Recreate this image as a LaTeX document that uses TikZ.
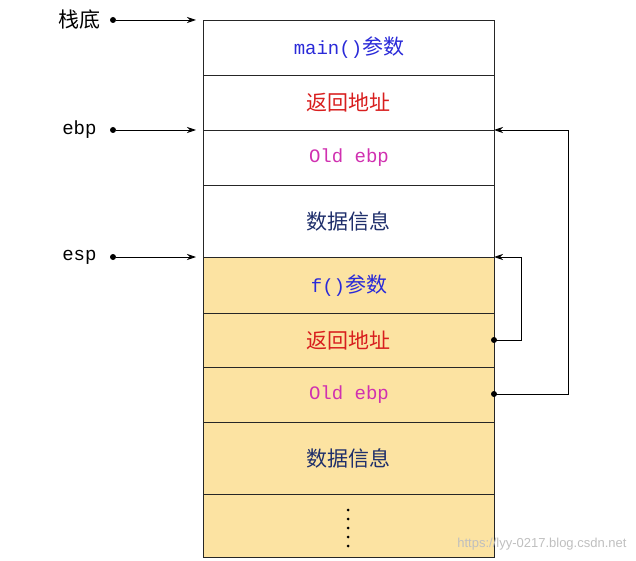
\documentclass[tikz,border=0pt]{standalone}
\usepackage{fontspec}
\setmainfont{Liberation Sans}
\newfontfamily\cjk{Noto Sans CJK SC}
\newfontfamily\mono{Liberation Mono}
\usetikzlibrary{arrows.meta}
\definecolor{yel}{HTML}{FCE3A2}
\definecolor{navy}{HTML}{1F2F6B}
\definecolor{mblue}{HTML}{2A2AD8}
\definecolor{mred}{HTML}{D81E1E}
\definecolor{mpink}{HTML}{D030B0}
\tikzset{
 cell/.style={draw=black!85, line width=0.9pt, minimum width=291pt, anchor=north west, inner sep=0pt},
 arr/.style={-{Stealth[length=9pt,width=6pt]}, line width=0.8pt},
 dotc/.style={circle, fill=black, inner sep=0pt, minimum size=6pt},
 vd/.style={circle, fill=black, inner sep=0pt, minimum size=3pt},
 lab/.style={anchor=east},
 ctxt/.style={font=\cjk\fontsize{21}{21}\selectfont},
 mtxt/.style={font=\mono\fontsize{19}{19}\selectfont}
}
\begin{document}
\begin{tikzpicture}[x=1pt,y=-1pt]
\useasboundingbox (0,0) rectangle (636,561);
\node[cell, minimum height=55pt] (c1) at (203,20) {};
\node[cell, minimum height=55pt] (c2) at (203,75) {};
\node[cell, minimum height=55pt] (c3) at (203,130) {};
\node[cell, minimum height=72pt] (c4) at (203,185) {};
\node[cell, minimum height=56pt, fill=yel] (c5) at (203,257) {};
\node[cell, minimum height=54pt, fill=yel] (c6) at (203,313) {};
\node[cell, minimum height=55pt, fill=yel] (c7) at (203,367) {};
\node[cell, minimum height=72pt, fill=yel] (c8) at (203,422) {};
\node[cell, minimum height=63pt, fill=yel] (c9) at (203,494) {};
\node[text=mblue] (t1) at (c1.center) {\mono\fontsize{19}{19}\selectfont main()\cjk\fontsize{21}{21}\selectfont 参数};
\node[ctxt, text=mred] (t2) at (c2.center) {返回地址};
\node[mtxt, text=mpink] (t3) at (c3.center) {Old ebp};
\node[ctxt, text=navy] (t4) at (c4.center) {数据信息};
\node[text=mblue] (t5) at (c5.center) {\mono\fontsize{19}{19}\selectfont f()\cjk\fontsize{21}{21}\selectfont 参数};
\node[ctxt, text=mred] (t6) at (c6.center) {返回地址};
\node[mtxt, text=mpink] (t7) at (c7.center) {Old ebp};
\node[ctxt, text=navy] (t8) at (c8.center) {数据信息};
\node[vd] (v1) at (348,510) {};
\node[vd] (v2) at (348,519) {};
\node[vd] (v3) at (348,528) {};
\node[vd] (v4) at (348,537) {};
\node[vd] (v5) at (348,546) {};
\node[dotc] (d1) at (113,20) {};
\node[dotc] (d2) at (113,130) {};
\node[dotc] (d3) at (113,257) {};
\node[lab, font=\cjk\fontsize{21}{21}\selectfont] (l1) at (104,20) {栈底};
\node[lab, font=\mono\fontsize{19}{19}\selectfont] (l2) at (100,130) {ebp};
\node[lab, font=\mono\fontsize{19}{19}\selectfont] (l3) at (100,257) {esp};
\coordinate (a1) at (196,20);
\coordinate (a2) at (196,130);
\coordinate (a3) at (196,257);
\draw[arr] (d1) -- (a1);
\draw[arr] (d2) -- (a2);
\draw[arr] (d3) -- (a3);
\node[dotc] (r1) at (494,340) {};
\node[dotc] (r2) at (494,394) {};
\coordinate (e1) at (494,257);
\coordinate (e2) at (494,130);
\draw[arr] (r1.center) -- (521,340) -- (521,257) -- (e1);
\draw[arr] (r2.center) -- (568,394) -- (568,130) -- (e2);
\node[text=black!25, font=\fontsize{13}{13}\selectfont, anchor=south east] (wm) at (630,554) {https://lyy-0217.blog.csdn.net};
\end{tikzpicture}
\end{document}
